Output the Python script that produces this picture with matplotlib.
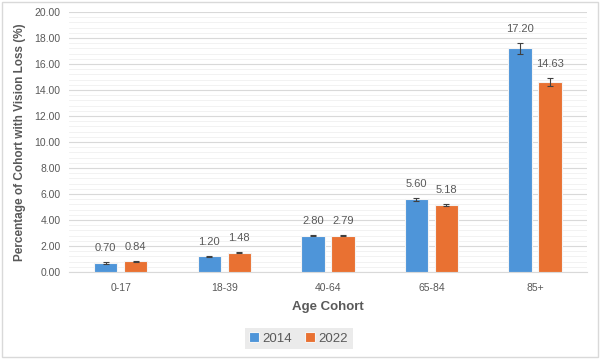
import matplotlib
matplotlib.use("Agg")
import matplotlib.pyplot as plt
import numpy as np
from matplotlib.patches import Rectangle
from matplotlib.ticker import MultipleLocator, FormatStrFormatter

categories = ["0-17", "18-39", "40-64", "65-84", "85+"]
years = ["2014", "2022"]
values_2014 = [0.70, 1.20, 2.80, 5.60, 17.20]
values_2022 = [0.84, 1.48, 2.79, 5.18, 14.63]
err_2014 = [0.06, 0.05, 0.04, 0.10, 0.42]
err_2022 = [0.04, 0.04, 0.05, 0.08, 0.32]

colors = ["#4E95D9", "#E97132"]
text_gray = "#595959"

plt.rcParams['font.family'] = ['Liberation Sans', 'DejaVu Sans']

fig = plt.figure(figsize=(6.0, 3.59), dpi=100)
ax = fig.add_axes([0.115, 0.2423, 0.863, 0.7243])

x = np.arange(len(categories))
offset = 0.145
width = 0.225
series = [(values_2014, err_2014), (values_2022, err_2022)]
for i, (vals, errs) in enumerate(series):
    pos = x + (i * 2 - 1) * offset
    ax.bar(pos, vals, width=width, color=colors[i], edgecolor="#F4F4F4",
           linewidth=0.8, label=years[i], zorder=3)
    ax.errorbar(pos, vals, yerr=errs, fmt="none", ecolor="#404040",
                elinewidth=0.8, capsize=2.5, capthick=0.8, zorder=4)
    for p, v, e in zip(pos, vals, errs):
        ax.annotate(f"{v:.2f}", (p, v + e), xytext=(0, 6.5), textcoords="offset points",
                    ha="center", va="bottom", fontsize=8, color=text_gray)

ax.set_xlim(-0.5, len(categories) - 0.5)
ax.set_ylim(0, 20)
ax.yaxis.set_major_locator(MultipleLocator(2))
ax.yaxis.set_minor_locator(MultipleLocator(0.4))
ax.yaxis.set_major_formatter(FormatStrFormatter("%.2f"))
ax.set_xticks(x)
ax.set_xticklabels(categories)
ax.tick_params(axis="both", which="both", length=0, labelsize=7.5, colors=text_gray)
ax.tick_params(axis="x", pad=8)
ax.tick_params(axis="y", pad=6)
ax.grid(axis="y", which="major", color="#D9D9D9", linewidth=0.8, zorder=0)
ax.grid(axis="y", which="minor", color="#F0F0F0", linewidth=0.6, zorder=0)
for s in ["top", "right", "left"]:
    ax.spines[s].set_visible(False)
ax.spines["bottom"].set_color("#D9D9D9")

ax.set_ylabel("Percentage of Cohort with Vision Loss (%)", fontsize=8.5,
              fontweight="bold", color=text_gray, labelpad=6)
ax.set_xlabel("Age Cohort", fontsize=9.5, fontweight="bold", color=text_gray, labelpad=6)

leg = fig.legend(loc="center", bbox_to_anchor=(0.498, 0.057), ncol=2, fontsize=9.5,
                 frameon=True, fancybox=False, handlelength=0.7, handleheight=0.7,
                 handletextpad=0.3, columnspacing=1.0, borderpad=0.35)
leg.get_frame().set_facecolor("#E7E6E6")
leg.get_frame().set_edgecolor("none")
for t in leg.get_texts():
    t.set_color(text_gray)

fig.patches.append(Rectangle((0.003, 0.005), 0.994, 0.99, transform=fig.transFigure,
                             fill=False, edgecolor="#D9D9D9", linewidth=1.0))

fig.savefig("out.png", dpi=100)
